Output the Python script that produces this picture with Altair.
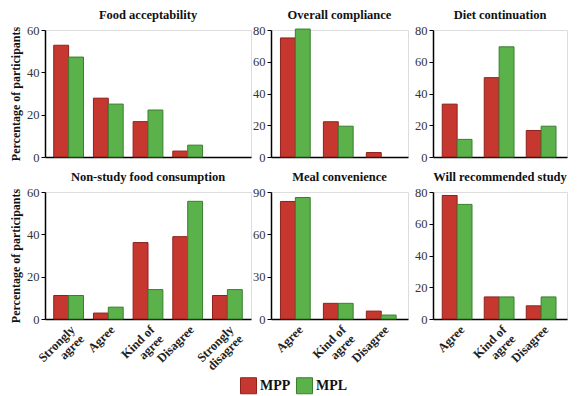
import altair as alt
import pandas as pd

FIVE = ["Strongly agree", "Agree", "Kind of agree", "Disagree", "Strongly disagree"]
THREE = ["Agree", "Kind of agree", "Disagree"]
GROUPS = ["MPP", "MPL"]
COLORS = ["#C6382F", "#5BB14A"]
STROKES = ["#8E211C", "#3A7F31"]

# Food acceptability (5th category empty)
food_mpp = [52.8, 27.8, 16.7, 2.8, 0]
food_mpl = [47.2, 25.0, 22.2, 5.6, 0]
# Overall compliance
comp_mpp = [75.0, 22.2, 2.8]
comp_mpl = [80.6, 19.4, 0]
# Diet continuation
diet_mpp = [33.3, 50.0, 16.7]
diet_mpl = [11.1, 69.4, 19.4]
# Non-study food consumption
nonstudy_mpp = [11.1, 2.8, 36.1, 38.9, 11.1]
nonstudy_mpl = [11.1, 5.6, 13.9, 55.6, 13.9]
# Meal convenience
meal_mpp = [83.3, 11.1, 5.6]
meal_mpl = [86.1, 11.1, 2.8]
# Will recommended study
rec_mpp = [77.8, 13.9, 8.3]
rec_mpl = [72.2, 13.9, 13.9]

FONT = "Liberation Serif"
YTITLE = "Percentage of participants"


def panel(title, cats, mpp, mpl, ymax, ystep, width, height, xlabels, ytitle, legend=False):
    rows = []
    for c, a, b in zip(cats, mpp, mpl):
        rows.append({"cat": c, "group": "MPP", "value": a})
        rows.append({"cat": c, "group": "MPL", "value": b})
    df = pd.DataFrame(rows)
    xaxis = alt.Axis(
        title=None, labels=xlabels, ticks=False, labelAngle=-45, labelAlign="right",
        labelBaseline="top", labelFont=FONT, labelFontWeight="bold", labelFontSize=12.5,
        labelColor="#222", labelPadding=4, labelLineHeight=13,
        labelExpr="datum.label == 'Kind of agree' ? ['Kind of', 'agree'] : split(datum.label, ' ')",
        domainColor="#000", domainWidth=1.5,
    )
    yaxis = alt.Axis(
        title=YTITLE if ytitle else None, values=list(range(0, ymax + 1, ystep)), grid=False,
        domainColor="#000", domainWidth=1.5, tickColor="#000", tickSize=4,
        labelFont=FONT, labelFontSize=12.5, labelColor="#333", labelPadding=2,
        titleFont=FONT, titleFontWeight="bold", titleFontSize=12, titleColor="#111",
        titlePadding=4,
    )
    return (
        alt.Chart(df)
        .transform_filter("datum.value > 0")
        .mark_bar(strokeWidth=1)
        .encode(
            x=alt.X("cat:N", scale=alt.Scale(domain=cats, paddingInner=0.25, paddingOuter=0.22), axis=xaxis),
            xOffset=alt.XOffset("group:N", scale=alt.Scale(domain=GROUPS)),
            y=alt.Y("value:Q", scale=alt.Scale(domain=[0, ymax], nice=False), axis=yaxis),
            color=alt.Color("group:N", scale=alt.Scale(domain=GROUPS, range=COLORS),
                            legend=alt.Legend(title=None, orient="none", direction="horizontal",
                                              legendX=195, legendY=347, symbolType="square",
                                              symbolSize=256, symbolStrokeWidth=1,
                                              symbolStrokeColor="#333",
                                              labelFont=FONT, labelFontSize=14,
                                              labelFontWeight="bold", labelColor="#111",
                                              labelOffset=3, columnPadding=3) if legend else None),
            stroke=alt.Stroke("group:N", scale=alt.Scale(domain=GROUPS, range=STROKES), legend=None),
        )
        .properties(
            width=width, height=height,
            title=alt.TitleParams(title, font=FONT, fontSize=12.5, fontWeight="bold", color="#111", offset=3),
        )
    )


W1, W2, W3 = 206, 137, 134
H = 127


def row(p1, p2, p3):
    left = alt.hconcat(p1, p2, spacing=0).resolve_scale(x="independent", y="independent")
    return alt.hconcat(left, p3, spacing=5).resolve_scale(x="independent", y="independent")


top = row(
    panel("Food acceptability", FIVE, food_mpp, food_mpl, 60, 20, W1, H, False, True, legend=True),
    panel("Overall compliance", THREE, comp_mpp, comp_mpl, 80, 20, W2, H, False, False),
    panel("Diet continuation", THREE, diet_mpp, diet_mpl, 80, 20, W3, H, False, False),
)

bottom = row(
    panel("Non-study food consumption", FIVE, nonstudy_mpp, nonstudy_mpl, 60, 20, W1, H, True, True),
    panel("Meal convenience", THREE, meal_mpp, meal_mpl, 90, 30, W2, H, True, False),
    panel("Will recommended study", THREE, rec_mpp, rec_mpl, 80, 20, W3, H, True, False),
)

chart = (
    alt.vconcat(top, bottom, spacing=6)
    .resolve_scale(color="shared", stroke="shared")
    .properties(padding=0)
    .configure_view(strokeWidth=0)
    .configure(background="white")
)

chart.save("out.html", embed_options={"renderer": "svg", "actions": False})
